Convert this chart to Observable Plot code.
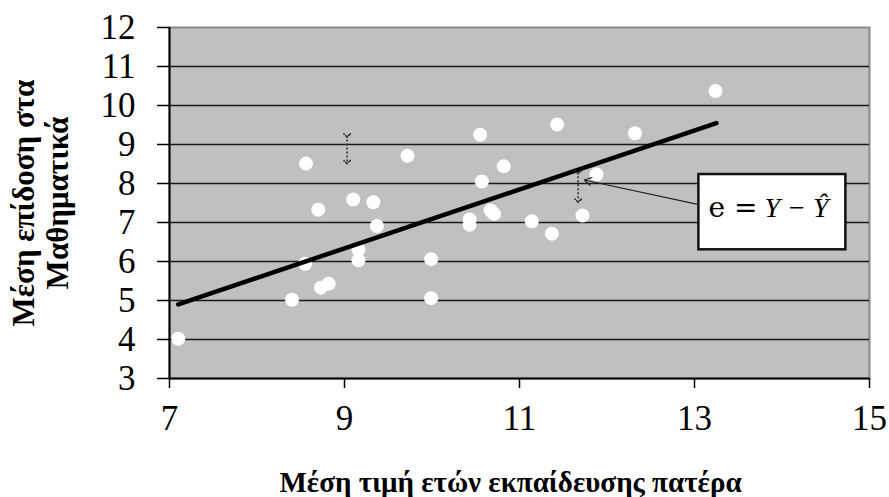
<!DOCTYPE html>
<html>
<head>
<meta charset="utf-8">
<script src="https://cdn.jsdelivr.net/npm/d3@7"></script>
<script src="https://cdn.jsdelivr.net/npm/@observablehq/plot@0.6"></script>
<style>
  html, body { margin: 0; padding: 0; background: #fff; }
  #chart svg { display: block; }
</style>
</head>
<body>
<div id="chart"></div>
<script>
// Scatter data: father's mean years of education vs mean maths score
const fatherEdu = [7.1, 8.4, 8.55, 8.56, 8.7, 8.73, 8.82, 9.1, 9.16, 9.16, 9.33, 9.37, 9.72, 9.99, 9.99,
                   10.43, 10.43, 10.55, 10.57, 10.67, 10.71, 10.82, 11.14, 11.37, 11.43, 11.72, 11.88, 12.32, 13.24];
const mathScore = [4.02, 5.02, 5.94, 8.51, 7.33, 5.33, 5.43, 7.59, 6.30, 6.03, 7.52, 6.91, 8.71, 6.06, 5.06,
                   7.08, 6.94, 9.25, 8.05, 7.31, 7.22, 8.44, 7.03, 6.71, 9.51, 7.18, 8.23, 9.29, 10.37];

// Fitted regression line endpoints
const lineX = [7.1, 13.25];
const lineY = [4.9, 9.55];

// Residual markers (double arrows)
const resX = [9.03, 11.67];
const resTop = [9.23, 8.29];
const resBottom = [8.55, 7.56];

// Annotation box and pointer
const boxX = [13.05, 14.73];
const boxY = [6.30, 8.23];
const pointerFrom = [13.05, 7.46];
const pointerTo = [11.74, 8.09];
const eqLeft = ["e ="];
const eqRight = ["Y \u2212 \u0176"];
const eqLeftX = [13.16];
const eqRightX = [13.8];
const eqY = [7.38];

// Axis ticks and titles
const xTicks = [7, 9, 11, 13, 15];
const yTicks = [3, 4, 5, 6, 7, 8, 9, 10, 11, 12];
const xTitle = "Μέση τιμή ετών εκπαίδευσης πατέρα";
const yTitle = "Μέση επίδοση στα\nΜαθηματικά";

const points = fatherEdu.map((x, i) => ({x, y: mathScore[i]}));
const fit = lineX.map((x, i) => ({x, y: lineY[i]}));
const residuals = resX.map((x, i) => ({x, y1: resTop[i], y2: resBottom[i]}));

const serif = "'Liberation Serif', 'Times New Roman', serif";

const chart = Plot.plot({
  width: 889,
  height: 497,
  marginLeft: 169,
  marginRight: 20,
  marginTop: 27,
  marginBottom: 119,
  style: {fontFamily: serif, background: "#fff", color: "#000"},
  x: {domain: [7, 15], label: null},
  y: {domain: [3, 12], label: null},
  marks: [
    Plot.frame({fill: "#c0c0c0", stroke: "#8a8a8a", strokeWidth: 2}),
    Plot.ruleY(yTicks.filter(d => d > 3 && d < 12), {stroke: "#1a1a1a", strokeWidth: 1.5}),
    Plot.axisX({ticks: xTicks, tickSize: 10, tickPadding: 17, fontSize: 35, fontFamily: serif,
      stroke: "#000", strokeWidth: 1.5, label: null}),
    Plot.axisY({ticks: yTicks, tickSize: 12, tickPadding: 22, fontSize: 35, fontFamily: serif,
      stroke: "#000", strokeWidth: 1.5, label: null}),
    Plot.ruleX([7], {stroke: "#000", strokeWidth: 2}),
    Plot.ruleY([3], {stroke: "#000", strokeWidth: 2}),
    Plot.dot(points, {x: "x", y: "y", r: 7, fill: "#fff", stroke: null}),
    Plot.line(fit, {x: "x", y: "y", stroke: "#000", strokeWidth: 4.5}),
    Plot.link(residuals, {x: "x", y1: "y1", y2: "y2", stroke: "#333", strokeWidth: 1.6,
      strokeDasharray: "2,2", markerStart: "arrow", markerEnd: "arrow"}),
    Plot.rect([{x1: boxX[0], x2: boxX[1], y1: boxY[0], y2: boxY[1]}],
      {x1: "x1", x2: "x2", y1: "y1", y2: "y2", fill: "#fff", stroke: "#111", strokeWidth: 2.5}),
    Plot.arrow([{x1: pointerFrom[0], y1: pointerFrom[1], x2: pointerTo[0], y2: pointerTo[1]}],
      {x1: "x1", y1: "y1", x2: "x2", y2: "y2", stroke: "#222", strokeWidth: 1.2, headLength: 10}),
    Plot.text(eqLeft, {x: eqLeftX, y: eqY, text: d => d, textAnchor: "start", fontSize: 28,
      fontFamily: "'DejaVu Serif', serif"}),
    Plot.text(eqRight, {x: eqRightX, y: eqY, text: d => d, textAnchor: "start", fontSize: 28,
      fontStyle: "italic", fontFamily: serif}),
    Plot.text([yTitle], {frameAnchor: "left", dx: -129, rotate: -90, textAnchor: "middle", lineAnchor: "middle",
      fontSize: 31, fontWeight: "bold", lineHeight: 1.1, fontFamily: serif, text: d => d}),
    Plot.text([xTitle], {frameAnchor: "bottom", dy: 104, dx: -9, lineAnchor: "middle", textAnchor: "middle",
      fontSize: 29, fontWeight: "bold", fontFamily: serif, text: d => d})
  ]
});
document.getElementById("chart").appendChild(chart);
</script>
</body>
</html>
